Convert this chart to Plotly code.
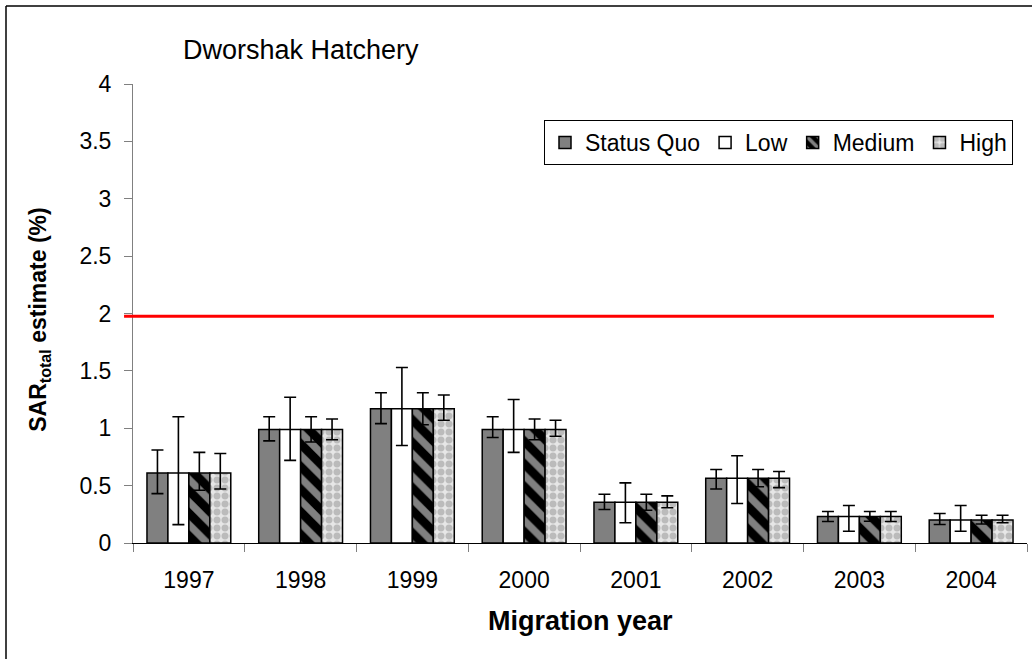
import plotly.graph_objects as go

# migration years and SAR point estimates (same for every scenario)
years = ["1997", "1998", "1999", "2000", "2001", "2002", "2003", "2004"]
sar = [0.61, 0.99, 1.17, 0.99, 0.355, 0.565, 0.23, 0.20]

# upper / lower confidence limits per scenario
sq_hi = [0.81, 1.10, 1.31, 1.10, 0.425, 0.64, 0.275, 0.257]
sq_lo = [0.43, 0.89, 1.04, 0.92, 0.292, 0.47, 0.187, 0.161]
low_hi = [1.10, 1.27, 1.53, 1.25, 0.524, 0.76, 0.327, 0.327]
low_lo = [0.16, 0.72, 0.85, 0.79, 0.176, 0.344, 0.103, 0.103]
med_hi = [0.79, 1.10, 1.31, 1.08, 0.425, 0.64, 0.274, 0.242]
med_lo = [0.46, 0.88, 1.03, 0.90, 0.285, 0.49, 0.19, 0.165]
high_hi = [0.78, 1.08, 1.29, 1.07, 0.411, 0.623, 0.274, 0.242]
high_lo = [0.47, 0.90, 1.07, 0.93, 0.307, 0.483, 0.187, 0.176]

target = 1.975  # red reference line

FONT = "Liberation Sans, Arial, sans-serif"

series = [
    ("Status Quo", sq_hi, sq_lo, dict(color="#808080")),
    ("Low", low_hi, low_lo, dict(color="white")),
    ("Medium", med_hi, med_lo,
     dict(color="black", pattern=dict(shape="\\", fgcolor="white", bgcolor="black",
                                      size=16, solidity=0.45))),
    ("High", high_hi, high_lo,
     dict(color="white", pattern=dict(shape=".", fgcolor="#909090", bgcolor="#e6e6e6",
                                      size=8, solidity=0.6))),
]

fig = go.Figure()
for name, hi, lo, mk in series:
    fig.add_trace(
        go.Bar(
            x=years,
            y=sar,
            name=name,
            marker=dict(**mk, line=dict(color="black", width=1.5)),
            error_y=dict(
                type="data",
                array=[h - v for h, v in zip(hi, sar)],
                arrayminus=[v - l for l, v in zip(lo, sar)],
                color="black",
                thickness=1.6,
                width=6,
            ),
        )
    )

fig.update_layout(
    width=1032,
    height=659,
    margin=dict(l=133, r=5, t=84, b=115.5),
    paper_bgcolor="white",
    plot_bgcolor="white",
    font=dict(family=FONT, size=22, color="black"),
    barmode="group",
    bargap=0.25,
    bargroupgap=0,
    showlegend=True,
    legend=dict(
        orientation="h",
        x=(1013 - 133) / 894,
        y=(543.5 - 120) / 459.5,
        xanchor="right",
        yanchor="top",
        bordercolor="black",
        borderwidth=1,
        bgcolor="white",
        font=dict(family=FONT, size=23),
        traceorder="normal",
    ),
    xaxis=dict(
        showline=True,
        linecolor="black",
        linewidth=1,
        ticks="outside",
        tickson="boundaries",
        ticklen=8,
        tickcolor="#808080",
        ticklabelstandoff=16,
        tickfont=dict(size=23),
        showgrid=False,
    ),
    yaxis=dict(
        range=[0, 4],
        dtick=0.5,
        showline=True,
        linecolor="#808080",
        linewidth=1,
        ticks="outside",
        ticklen=8,
        tickcolor="#808080",
        ticklabelstandoff=8,
        tickfont=dict(size=23),
        showgrid=False,
        zeroline=False,
    ),
    shapes=[
        dict(type="line", xref="paper", yref="y", x0=-0.010, x1=0.963,
             y0=target, y1=target, line=dict(color="red", width=3)),
        # outer frame (left and top visible)
        dict(type="line", xref="paper", yref="paper", x0=-127 / 894, x1=-127 / 894,
             y0=-2, y1=(543.5 - 6) / 459.5, line=dict(color="black", width=1.5)),
        dict(type="line", xref="paper", yref="paper", x0=-127 / 894, x1=2,
             y0=(543.5 - 6) / 459.5, y1=(543.5 - 6) / 459.5,
             line=dict(color="black", width=1.5)),
    ],
    annotations=[
        dict(text="Dworshak Hatchery", xref="paper", yref="paper",
             x=(181 - 133) / 894, y=(543.5 - 50) / 459.5, xanchor="left", yanchor="middle",
             showarrow=False, font=dict(size=27)),
        dict(text="<b>SAR<sub>total</sub> estimate (%)</b>", xref="paper", yref="paper",
             x=(40 - 133) / 894, y=(543.5 - 320) / 459.5, xanchor="center", yanchor="middle",
             textangle=-90, showarrow=False, font=dict(size=23)),
        dict(text="<b>Migration year</b>", xref="paper", yref="paper",
             x=0.5, y=-(622 - 543.5) / 459.5, xanchor="center", yanchor="middle",
             showarrow=False, font=dict(size=27)),
    ],
)

fig.write_html(
    "out.html",
    config={"displayModeBar": False},
    post_script="document.body.style.margin='0px';",
)
